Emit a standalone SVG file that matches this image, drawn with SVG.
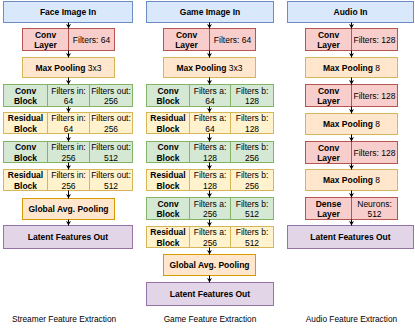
<svg xmlns="http://www.w3.org/2000/svg" width="415" height="329" viewBox="0 0 415 329">
<style>
text{font-family:"Liberation Sans",Arial,sans-serif;font-size:8.5px;fill:#000;text-anchor:middle}
.b{font-weight:bold}
rect{stroke-width:1}
.blue{fill:#dae8fc;stroke:#6c8ebf}
.red{fill:#f8cecc;stroke:#b85450}
.mp{fill:#ffe6cc;stroke:#d6b656}
.gap{fill:#ffe6cc;stroke:#d79b00}
.green{fill:#d5e8d4;stroke:#82b366}
.yel{fill:#fff2cc;stroke:#d6b656}
.pur{fill:#e1d5e7;stroke:#9673a6}
.dr{stroke:#b85450}
.dg{stroke:#82b366}
.dy{stroke:#d6b656}
.conn line{stroke:#000;stroke-width:1;marker-end:url(#ah)}
.cap{font-size:8.3px}
</style>
<defs>
<marker id="ah" markerWidth="5" markerHeight="5" refX="4.5" refY="2.5" orient="auto" markerUnits="userSpaceOnUse">
<path d="M0,0 L4.5,2.5 L0,5 L1.2,2.5 Z" fill="#000"/>
</marker>
</defs>

<!-- Face column -->
<g id="face-in"><rect class="blue" x="3.5" y="1.5" width="129" height="21"/><text class="b" x="68" y="15">Face Image In</text></g>
<g id="face-conv"><rect class="red" x="22.5" y="28.5" width="92" height="22"/><line class="dr" x1="68.5" y1="28.5" x2="68.5" y2="50.5"/><text class="b" x="45.5" y="37.5">Conv</text><text class="b" x="45.5" y="48">Layer</text><text x="91.5" y="42.5">Filters: 64</text></g>
<g id="face-mp"><rect class="mp" x="22.5" y="57.5" width="92" height="20"/><text x="68.5" y="70.5"><tspan class="b">Max Pooling</tspan> 3x3</text></g>
<g id="face-cb1"><rect class="green" x="3.5" y="84.5" width="129" height="22"/><line class="dg" x1="47.5" y1="84.5" x2="47.5" y2="106.5"/><line class="dg" x1="89.5" y1="84.5" x2="89.5" y2="106.5"/><text class="b" x="25.5" y="93.5">Conv</text><text class="b" x="25.5" y="104">Block</text><text x="68.5" y="93.5">Filters in:</text><text x="68.5" y="104">64</text><text x="111" y="93.5">Filters out:</text><text x="111" y="104">256</text></g>
<g id="face-rb1"><rect class="yel" x="3.5" y="112.5" width="129" height="21"/><line class="dy" x1="47.5" y1="112.5" x2="47.5" y2="133.5"/><line class="dy" x1="89.5" y1="112.5" x2="89.5" y2="133.5"/><text class="b" x="25.5" y="121">Residual</text><text class="b" x="25.5" y="131.5">Block</text><text x="68.5" y="121">Filters in:</text><text x="68.5" y="131.5">64</text><text x="111" y="121">Filters out:</text><text x="111" y="131.5">256</text></g>
<g id="face-cb2"><rect class="green" x="3.5" y="141.5" width="129" height="21"/><line class="dg" x1="47.5" y1="141.5" x2="47.5" y2="162.5"/><line class="dg" x1="89.5" y1="141.5" x2="89.5" y2="162.5"/><text class="b" x="25.5" y="150">Conv</text><text class="b" x="25.5" y="160.5">Block</text><text x="68.5" y="150">Filters in:</text><text x="68.5" y="160.5">256</text><text x="111" y="150">Filters out:</text><text x="111" y="160.5">512</text></g>
<g id="face-rb2"><rect class="yel" x="3.5" y="169.5" width="129" height="21"/><line class="dy" x1="47.5" y1="169.5" x2="47.5" y2="190.5"/><line class="dy" x1="89.5" y1="169.5" x2="89.5" y2="190.5"/><text class="b" x="25.5" y="178">Residual</text><text class="b" x="25.5" y="188.5">Block</text><text x="68.5" y="178">Filters in:</text><text x="68.5" y="188.5">256</text><text x="111" y="178">Filters out:</text><text x="111" y="188.5">512</text></g>
<g id="face-gap"><rect class="gap" x="22.5" y="198.5" width="92" height="21"/><text class="b" x="68.5" y="212">Global Avg. Pooling</text></g>
<g id="face-out"><rect class="pur" x="3.5" y="225.5" width="129" height="23"/><text class="b" x="68" y="240">Latent Features Out</text></g>

<!-- Game column -->
<g id="game-in"><rect class="blue" x="146.5" y="1.5" width="127" height="21"/><text class="b" x="210" y="15">Game Image In</text></g>
<g id="game-conv"><rect class="red" x="163.5" y="28.5" width="92" height="22"/><line class="dr" x1="209.5" y1="28.5" x2="209.5" y2="50.5"/><text class="b" x="186.5" y="37.5">Conv</text><text class="b" x="186.5" y="48">Layer</text><text x="232.5" y="42.5">Filters: 64</text></g>
<g id="game-mp"><rect class="mp" x="163.5" y="57.5" width="92" height="20"/><text x="209.5" y="70.5"><tspan class="b">Max Pooling</tspan> 3x3</text></g>
<g id="game-cb1"><rect class="green" x="146.5" y="84.5" width="127" height="22"/><line class="dg" x1="189.5" y1="84.5" x2="189.5" y2="106.5"/><line class="dg" x1="230.5" y1="84.5" x2="230.5" y2="106.5"/><text class="b" x="168" y="93.5">Conv</text><text class="b" x="168" y="104">Block</text><text x="210" y="93.5">Filters a:</text><text x="210" y="104">64</text><text x="252" y="93.5">Filters b:</text><text x="252" y="104">128</text></g>
<g id="game-rb1"><rect class="yel" x="146.5" y="112.5" width="127" height="21"/><line class="dy" x1="189.5" y1="112.5" x2="189.5" y2="133.5"/><line class="dy" x1="230.5" y1="112.5" x2="230.5" y2="133.5"/><text class="b" x="168" y="121">Residual</text><text class="b" x="168" y="131.5">Block</text><text x="210" y="121">Filters a:</text><text x="210" y="131.5">64</text><text x="252" y="121">Filters b:</text><text x="252" y="131.5">128</text></g>
<g id="game-cb2"><rect class="green" x="146.5" y="141.5" width="127" height="21"/><line class="dg" x1="189.5" y1="141.5" x2="189.5" y2="162.5"/><line class="dg" x1="230.5" y1="141.5" x2="230.5" y2="162.5"/><text class="b" x="168" y="150">Conv</text><text class="b" x="168" y="160.5">Block</text><text x="210" y="150">Filters a:</text><text x="210" y="160.5">128</text><text x="252" y="150">Filters b:</text><text x="252" y="160.5">256</text></g>
<g id="game-rb2"><rect class="yel" x="146.5" y="169.5" width="127" height="21"/><line class="dy" x1="189.5" y1="169.5" x2="189.5" y2="190.5"/><line class="dy" x1="230.5" y1="169.5" x2="230.5" y2="190.5"/><text class="b" x="168" y="178">Residual</text><text class="b" x="168" y="188.5">Block</text><text x="210" y="178">Filters a:</text><text x="210" y="188.5">128</text><text x="252" y="178">Filters b:</text><text x="252" y="188.5">256</text></g>
<g id="game-cb3"><rect class="green" x="146.5" y="197.5" width="127" height="22"/><line class="dg" x1="189.5" y1="197.5" x2="189.5" y2="219.5"/><line class="dg" x1="230.5" y1="197.5" x2="230.5" y2="219.5"/><text class="b" x="168" y="206.5">Conv</text><text class="b" x="168" y="217">Block</text><text x="210" y="206.5">Filters a:</text><text x="210" y="217">256</text><text x="252" y="206.5">Filters b:</text><text x="252" y="217">512</text></g>
<g id="game-rb3"><rect class="yel" x="146.5" y="226.5" width="127" height="21"/><line class="dy" x1="189.5" y1="226.5" x2="189.5" y2="247.5"/><line class="dy" x1="230.5" y1="226.5" x2="230.5" y2="247.5"/><text class="b" x="168" y="235">Residual</text><text class="b" x="168" y="245.5">Block</text><text x="210" y="235">Filters a:</text><text x="210" y="245.5">256</text><text x="252" y="235">Filters b:</text><text x="252" y="245.5">512</text></g>
<g id="game-gap"><rect class="gap" x="163.5" y="254.5" width="92" height="21"/><text class="b" x="209.5" y="268">Global Avg. Pooling</text></g>
<g id="game-out"><rect class="pur" x="146.5" y="282.5" width="127" height="23"/><text class="b" x="210" y="297">Latent Features Out</text></g>

<!-- Audio column -->
<g id="audio-in"><rect class="blue" x="287.5" y="1.5" width="126" height="21"/><text class="b" x="350.5" y="15">Audio In</text></g>
<g id="audio-conv1"><rect class="red" x="305.5" y="28.5" width="92" height="22"/><line class="dr" x1="351.5" y1="28.5" x2="351.5" y2="50.5"/><text class="b" x="328.5" y="37.5">Conv</text><text class="b" x="328.5" y="48">Layer</text><text x="374.5" y="42.5">Filters: 128</text></g>
<g id="audio-mp1"><rect class="mp" x="305.5" y="57.5" width="92" height="20"/><text x="351.5" y="70.5"><tspan class="b">Max Pooling</tspan> 8</text></g>
<g id="audio-conv2"><rect class="red" x="305.5" y="84.5" width="92" height="22"/><line class="dr" x1="351.5" y1="84.5" x2="351.5" y2="106.5"/><text class="b" x="328.5" y="93.5">Conv</text><text class="b" x="328.5" y="104">Layer</text><text x="374.5" y="98.5">Filters: 128</text></g>
<g id="audio-mp2"><rect class="mp" x="305.5" y="113.5" width="92" height="21"/><text x="351.5" y="127"><tspan class="b">Max Pooling</tspan> 8</text></g>
<g id="audio-conv3"><rect class="red" x="305.5" y="141.5" width="92" height="22"/><line class="dr" x1="351.5" y1="141.5" x2="351.5" y2="163.5"/><text class="b" x="328.5" y="150.5">Conv</text><text class="b" x="328.5" y="161">Layer</text><text x="374.5" y="155.5">Filters: 128</text></g>
<g id="audio-mp3"><rect class="mp" x="305.5" y="169.5" width="92" height="21"/><text x="351.5" y="183"><tspan class="b">Max Pooling</tspan> 8</text></g>
<g id="audio-dense"><rect class="red" x="305.5" y="197.5" width="92" height="22"/><line class="dr" x1="351.5" y1="197.5" x2="351.5" y2="219.5"/><text class="b" x="328.5" y="206.5">Dense</text><text class="b" x="328.5" y="217">Layer</text><text x="374.5" y="206.5">Neurons:</text><text x="374.5" y="217">512</text></g>
<g id="audio-out"><rect class="pur" x="287.5" y="225.5" width="126" height="23"/><text class="b" x="350.5" y="240">Latent Features Out</text></g>

<!-- Connectors -->
<g id="connectors" class="conn">
<line x1="68.5" y1="22.5" x2="68.5" y2="28.5"/>
<line x1="68.5" y1="50.5" x2="68.5" y2="57.5"/>
<line x1="68.5" y1="77.5" x2="68.5" y2="84.5"/>
<line x1="68.5" y1="106.5" x2="68.5" y2="112.5"/>
<line x1="68.5" y1="133.5" x2="68.5" y2="141.5"/>
<line x1="68.5" y1="162.5" x2="68.5" y2="169.5"/>
<line x1="68.5" y1="190.5" x2="68.5" y2="198.5"/>
<line x1="68.5" y1="219.5" x2="68.5" y2="225.5"/>

<line x1="209.5" y1="22.5" x2="209.5" y2="28.5"/>
<line x1="209.5" y1="50.5" x2="209.5" y2="57.5"/>
<line x1="209.5" y1="77.5" x2="209.5" y2="84.5"/>
<line x1="209.5" y1="106.5" x2="209.5" y2="112.5"/>
<line x1="209.5" y1="133.5" x2="209.5" y2="141.5"/>
<line x1="209.5" y1="162.5" x2="209.5" y2="169.5"/>
<line x1="209.5" y1="190.5" x2="209.5" y2="197.5"/>
<line x1="209.5" y1="219.5" x2="209.5" y2="226.5"/>
<line x1="209.5" y1="247.5" x2="209.5" y2="254.5"/>
<line x1="209.5" y1="275.5" x2="209.5" y2="282.5"/>

<line x1="351.5" y1="22.5" x2="351.5" y2="28.5"/>
<line x1="351.5" y1="50.5" x2="351.5" y2="57.5"/>
<line x1="351.5" y1="77.5" x2="351.5" y2="84.5"/>
<line x1="351.5" y1="106.5" x2="351.5" y2="113.5"/>
<line x1="351.5" y1="134.5" x2="351.5" y2="141.5"/>
<line x1="351.5" y1="163.5" x2="351.5" y2="169.5"/>
<line x1="351.5" y1="190.5" x2="351.5" y2="197.5"/>
<line x1="351.5" y1="219.5" x2="351.5" y2="225.5"/>
</g>

<!-- Captions -->
<text class="cap" x="64" y="322">Streamer Feature Extraction</text>
<text class="cap" x="210" y="322">Game Feature Extraction</text>
<text class="cap" x="351.5" y="322">Audio Feature Extraction</text>
</svg>
